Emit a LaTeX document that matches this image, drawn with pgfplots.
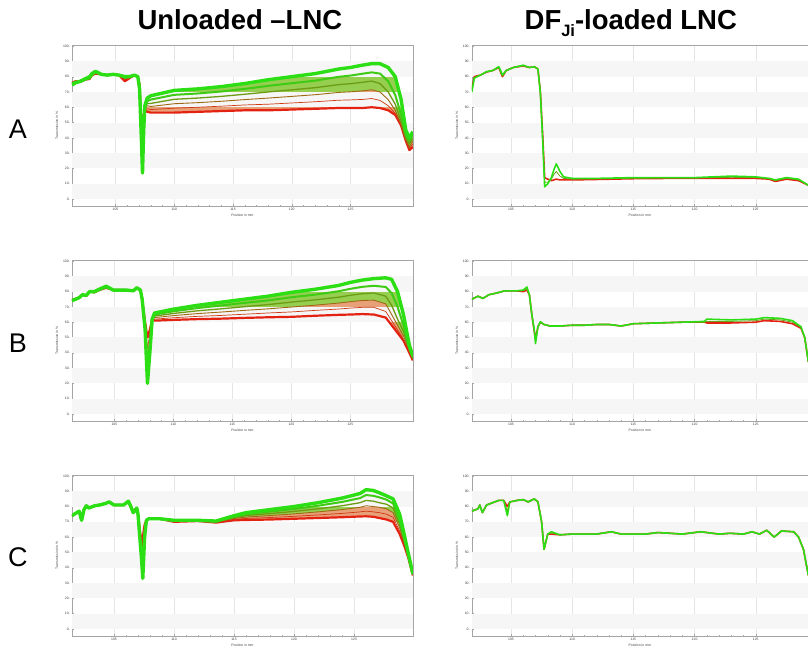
\documentclass[border=0pt]{standalone}
\usepackage{fontspec}
\setmainfont{Liberation Sans}
\usepackage{pgfplots}
\usepackage{pgfplotstable}
\usepgfplotslibrary{fillbetween}
\pgfplotsset{compat=1.18}

\definecolor{cred}{RGB}{228,34,18}
\definecolor{cgreen}{RGB}{44,222,20}
\definecolor{band}{RGB}{246,246,246}
\definecolor{axgray}{RGB}{165,165,165}
\colorlet{fa}{cred!88!cgreen}
\colorlet{fb}{cred!62!cgreen}
\colorlet{fc}{cred!35!cgreen}
\colorlet{fd}{cred!10!cgreen}
\definecolor{fillhi}{RGB}{150,206,80}
\definecolor{filllo}{RGB}{232,160,120}

% ---------- Unloaded LNC, row A ----------
\pgfplotstableread{
x r a b c d g
101.3 76 76 76 76 75.5 74.5
101.6 77 77 77 77 76.5 76
102.0 76.5 76.5 76.5 76.5 76.5 77
102.4 78 78 78 78 78 78.5
102.8 78.5 78.5 78.5 78.5 79 80
103.0 81 81 81 81 81 82
103.3 82 82 82 82.5 83 83.5
103.8 81.5 81.5 81.5 81.5 81.5 81.5
104.3 81 81 81 81 81 81
104.8 81.5 81.5 81.5 81.5 81.5 81.5
105.3 81 81 81 81 81 81
105.8 77 78 78.5 79 79.5 80
106.2 79 79.5 79.5 80 80 80
106.6 81 81 81 81 81 81
106.9 80 80 80 80 80 80
107.05 75 75 74 73 72 72
107.2 50 50 48 46 43 40
107.3 48 42 36 30 24 17
107.4 55 54 52 50 48 45
107.5 58 58.5 59 59.5 60 61
107.7 57 59 61 62.5 64 66
108 56.5 58.5 60.5 62.5 65 67.5
110 56.5 59.4 62.3 65.2 68.1 71
112 57 60 63 66 69 72
114 57.5 60.7 63.9 67.1 70.3 73.5
116 58 61.5 65 68.5 72 75.5
118 58 62 66 70 74 78
120 58.5 62.8 67.1 71.4 75.7 80
122 59 63.6 68.2 72.8 77.4 82
124 59.5 64.6 69.7 74.8 79.9 85
125 59.5 64.8 70.1 75.4 80.7 86
126 59.5 65.1 70.7 76.3 81.9 87.5
126.8 60 65.7 71.4 77.1 82.8 88.5
127.5 59.5 64.5 70 75.5 82 88.5
128.2 58 61 65 70 77 86
128.8 55 56 58 62 68 80
129.3 48 48 49 51 55 65
129.7 38 38 39 40 42 45
130.0 32 33 34 36 38 40
130.3 34 36 38 40 42 44
}\tabAL

% ---------- Unloaded LNC, row B ----------
\pgfplotstableread{
x r a b c d g
101.4 74.5 74.5 74.5 74.5 74.5 74
102.0 76 76 76 76 76 76
102.3 78 78 78 78 78 78
102.6 77 77 77 77 77 77.5
102.9 80 80 80 80 80 80
103.3 79.5 79.5 79.5 79.5 79.5 80
103.7 81 81 81 81 81 81.5
104.3 82.5 82.5 82.5 82.5 83 83.5
104.9 81 81 81 81 81 81
105.4 81 81 81 81 81 81
106.0 81 81 81 81 81 81
106.6 80.5 80.5 80.5 80.5 80.5 80.5
106.9 82.5 82.5 82.5 82.5 82.5 82.5
107.2 81 81 81 81 81 81
107.35 75 75 75 75 75 75
107.6 60 59 58 57 56 55
107.8 50 43 36 29 24 20
108.0 55 52 49 46 43 40
108.2 62 62 62 62 62 62
108.4 61 62 63 64 65 66
110 61.5 62.9 64.3 65.7 67.1 68.5
112 62 63.8 65.6 67.4 69.2 71
114 62.3 64.4 66.6 68.7 70.9 73
116 62.8 65.2 67.7 70.1 72.6 75
118 63.2 66 68.7 71.5 74.2 77
120 63.5 66.7 69.9 73.1 76.3 79.5
122 64.2 67.7 71.1 74.6 78 81.5
124 64.8 68.6 72.5 76.3 80.2 84
125 65 69.2 73.4 77.6 81.8 86
126 65.3 69.7 74.2 78.6 83.1 87.5
127 65 69.7 74.4 79.1 83.8 88.5
128 63 67 72 77 83 89
128.5 58 61 65 71 79 88
129 53 55 58 62 70 80
129.5 48 49 51 54 58 65
130 40 41 42 42 43 45
130.3 35 35.5 36 36.5 37 38
}\tabBL

% ---------- Unloaded LNC, row C ----------
\pgfplotstableread{
x r a b c d g
101.5 74 74 74 74 74 74
101.8 75.5 75.5 75.5 75.5 75.5 75.5
102.1 77 77 77 77 77 77
102.3 71 71 71 71 71 71
102.5 78 78 78 78 78 78
102.7 80.5 80.5 80.5 80.5 80.5 80.5
102.9 79 79 79 79 79 79
103.4 80.5 80.5 80.5 80.5 80.5 80.5
103.8 81 81 81 81 81 81
104.3 82 82 82 82 82 82
104.6 83 83 83 83 83 83
105.0 81 81 81 81 81 81
105.5 81 81 81 81 81 81
105.8 81 81 81 81 81 81
106.2 83.5 83.5 83.5 83.5 83.5 83.5
106.4 80 80 80 80 80 80
106.6 77 77 77 76.5 76.5 76
106.9 79 79 79 79 79 79
107.0 75 75 75 75 75 75
107.3 55 55 53 50 48 45
107.4 60 54 48 42 37 33
107.55 68 67 66 64 62 60
107.7 71 71 71 71 71 71
107.9 72 72 72 72 72 72
108.8 72 72 72 72 72 72
110 70 70.2 70.4 70.6 70.8 71
112 70.5 70.6 70.7 70.8 70.9 71
113.5 69.5 69.7 69.9 70.1 70.3 70.5
115 71 71.6 72.2 72.8 73.4 74
116 71.2 72.2 73.1 74.1 75 76
118 71.5 72.8 74.1 75.4 76.7 78
120 72 73.6 75.2 76.8 78.4 80
122 72.5 74.5 76.5 78.5 80.5 82.5
124 73 75.5 78 80.5 83 85.5
125.5 73.5 76.5 79.5 82.5 85.5 88.5
126.0 73.6 77 80.5 84 87.5 91
126.6 73.3 76.5 80 83.5 87 90.5
127.1 72.5 76 79.5 82.5 86 89
127.7 71.5 75 78.5 81.5 84.5 87
128.25 70 73 76 79 82 85
128.8 62 64 66 68 71 75
129.2 54 55 56 57.5 59 61
129.5 47 47.5 48 48.5 49 50
129.9 35 35 35.5 35.5 36 36
}\tabCL

% ---------- DF-loaded LNC, row A ----------
\pgfplotstableread{
x r m g
101.8 72 71 70
102.0 80 79.5 79
102.5 81 81 81
103.0 83 83 83.3
103.5 84 84 84
104.0 86 86 86.5
104.15 83 83 84
104.3 80 80.5 81
104.6 84 84 84
105.2 86 86 86
106.0 87 87 87.5
106.5 86 86 86
106.9 86.5 86.5 86.5
107.2 85 85 85
107.4 70 70 69
107.6 40 38 36
107.75 14 11 8
108.0 13 11 10
108.3 12 13 14
108.5 12.5 16 19
108.7 13 18 23
109.0 12.5 15 18
109.3 12.5 13.5 14.5
110 12.5 13 13.5
112 12.8 13.2 13.5
115 13.3 13.6 14
118 13.5 13.8 14
120 13.5 13.8 14
121.5 13.5 14 14.5
123 13.5 14.2 15
125 13.5 14 14.5
126.1 13 13.5 13.5
126.6 11.5 12 12.5
127.5 13 13.5 14
128.5 12 12.5 13
129.3 9 9 9
}\tabAR

% ---------- DF-loaded LNC, row B ----------
\pgfplotstableread{
x r m g
101.8 75 75 75
102.3 77 77 77
102.7 75.5 75.5 75.5
103.2 78 78 78
103.8 79 79 79
104.5 80.5 80.5 80.5
105.5 80.5 80.5 80.5
106.0 80 80.5 81
106.3 81 82 83
106.5 78 78 78
106.7 65 65 65
106.9 54 55 55
107.0 49 47.5 46
107.2 57 57 57
107.4 60 60 60.3
107.7 58.5 58.5 58.5
108.2 57.5 57.5 57.5
109 57.5 57.5 57.5
110 58 58 58
111 58 58 58
112 58.5 58.5 58.5
113 58.5 58.5 58.5
114 57.5 57.5 57.5
115 59 59 59
117 59.5 59.5 59.5
119 60 60 60
120.8 60 60 60.5
121.0 59.5 60.5 62
123 59.5 60.5 61.5
125 60 61 62
125.7 61 62 63
127 60.5 61.5 62.5
128 59 60 61
128.7 56 56.5 57
129.0 50 50 50
129.3 34 34 34
}\tabBR

% ---------- DF-loaded LNC, row C ----------
\pgfplotstableread{
x r m g
101.8 77 77 77
102.3 78.5 78.5 78.5
102.45 81 81 81
102.66 76 76 76
103.0 81 81 81
103.5 82.5 82.5 82.5
104.0 84 84 84
104.4 84 84 84
104.7 80 77 74
104.9 83 83 83
105.5 84 84 84
106.0 84.5 84.5 84.5
106.4 83 83 83
106.9 85 85 85
107.2 83 83 83
107.5 70 70 70
107.7 52 52 52
108.0 62 62 62
108.3 62 62.7 63.5
109 61.5 61.5 61.5
110 62 62 62
112 62 62 62
113.2 63.5 63.5 63.5
114 62 62 62
116 62 62 62
117 63 63 63
119 62 62 62
120.5 63.5 63.5 63.5
122 62 62 62
122.9 62.5 62.5 62.5
124 62 62 62
124.7 63.5 63.5 63.5
125.3 62 62 62
125.9 64.5 64.5 64.5
126.5 60 60 60
127.1 64 64 64
128.1 63.5 63.5 63.5
128.5 60 60 60
128.9 52 52 52
129.3 35 35 35
}\tabCR

\pgfplotsset{
  panel/.style={
    scale only axis, height=161pt,
    ymin=-4.5, ymax=100.7,
    ytick={0,10,...,100}, minor y tick num=4,
    xtick={105,110,...,125}, minor x tick num=4,
    xtick pos=lower, ytick pos=left,
    xmajorgrids, major grid style={black!10, line width=0.3pt},
    axis line style={axgray, line width=0.5pt, -},
    tick style={axgray, line width=0.3pt},
    major tick length=2pt, minor tick length=1.1pt,
    tick align=inside,
    /pgf/number format/assume math mode=true,
    tick label style={font=\fontsize{3.4}{4}\selectfont, text=black!75},
    x tick label style={yshift=1pt},
    yticklabel={\pgfmathprintnumber{\tick}-},
    y tick label style={xshift=1.4pt},
    xlabel={Position in mm}, ylabel={Transmission in \%},
    label style={font=\fontsize{3.4}{4}\selectfont, text=black!75},
    xlabel style={yshift=4pt}, ylabel style={yshift=-2pt},
    no marks, line join=round,
  },
  rpanel/.style={panel, width=336pt, xmin=101.8, xmax=129.25,
    axis x line*=box, axis y line*=left},
}

\newcommand{\bands}[2]{%
    \fill[band] (axis cs:#1,0) rectangle (axis cs:#2,10);
    \fill[band] (axis cs:#1,20) rectangle (axis cs:#2,30);
    \fill[band] (axis cs:#1,40) rectangle (axis cs:#2,50);
    \fill[band] (axis cs:#1,60) rectangle (axis cs:#2,70);
    \fill[band] (axis cs:#1,80) rectangle (axis cs:#2,90);}

\newcommand{\fan}[1]{%
  \addplot[draw=none, name path=lo] table[x=x, y=r] {#1};
  \addplot[draw=none, name path=mid] table[x=x, y=b] {#1};
  \addplot[draw=none, name path=hi] table[x=x, y=g] {#1};
  \addplot[filllo] fill between[of=mid and lo];
  \addplot[fillhi] fill between[of=hi and mid];
  \addplot[cred, line width=2.2pt] table[x=x, y=r] {#1};
  \addplot[fa, line width=0.7pt] table[x=x, y=a] {#1};
  \addplot[fb, line width=0.9pt] table[x=x, y=b] {#1};
  \addplot[fc, line width=1.3pt] table[x=x, y=c] {#1};
  \addplot[fd, line width=2.0pt] table[x=x, y=d] {#1};
  \addplot[cgreen, line width=3.4pt] table[x=x, y=g] {#1};}

\newcommand{\thin}[1]{%
  \addplot[cred, line width=1.6pt] table[x=x, y=r] {#1};
  \addplot[fc, line width=0.8pt] table[x=x, y=m] {#1};
  \addplot[cgreen, line width=1.6pt] table[x=x, y=g] {#1};}

\begin{document}
\begin{tikzpicture}
\path (0,0) rectangle (808pt,647pt);

% titles
\node[anchor=base, font=\bfseries\fontsize{27.5}{30}\selectfont] at (240pt,617pt) {Unloaded –LNC};
\node[anchor=base, font=\bfseries\fontsize{27.5}{30}\selectfont] at (631pt,617pt)
  {DF\raisebox{-0.22em}{\fontsize{16.5}{16.5}\selectfont Ji}-loaded LNC};
% row labels
\node[anchor=base, font=\fontsize{27}{30}\selectfont] at (18pt,508pt) {A};
\node[anchor=base, font=\fontsize{27}{30}\selectfont] at (18pt,294pt) {B};
\node[anchor=base, font=\fontsize{27}{30}\selectfont] at (18pt,80pt) {C};

% ---- row A ----
\begin{axis}[panel, width=341pt, xmin=101.3, xmax=130.3, at={(72pt,441pt)}, anchor=south west]
  \bands{101.3}{130.3}
  \fan{\tabAL}
\end{axis}
\begin{axis}[rpanel, at={(472pt,441pt)}, anchor=south west]
  \bands{101.8}{129.25}
  \thin{\tabAR}
\end{axis}

% ---- row B ----
\begin{axis}[panel, width=341pt, xmin=101.4, xmax=130.3, at={(72pt,226pt)}, anchor=south west]
  \bands{101.4}{130.3}
  \fan{\tabBL}
\end{axis}
\begin{axis}[rpanel, at={(472pt,226pt)}, anchor=south west]
  \bands{101.8}{129.25}
  \thin{\tabBR}
\end{axis}

% ---- row C ----
\begin{axis}[panel, width=341pt, xmin=101.5, xmax=129.9, at={(72pt,11pt)}, anchor=south west]
  \bands{101.5}{129.9}
  \fan{\tabCL}
\end{axis}
\begin{axis}[rpanel, at={(472pt,11pt)}, anchor=south west]
  \bands{101.8}{129.25}
  \thin{\tabCR}
\end{axis}
\end{tikzpicture}
\end{document}
